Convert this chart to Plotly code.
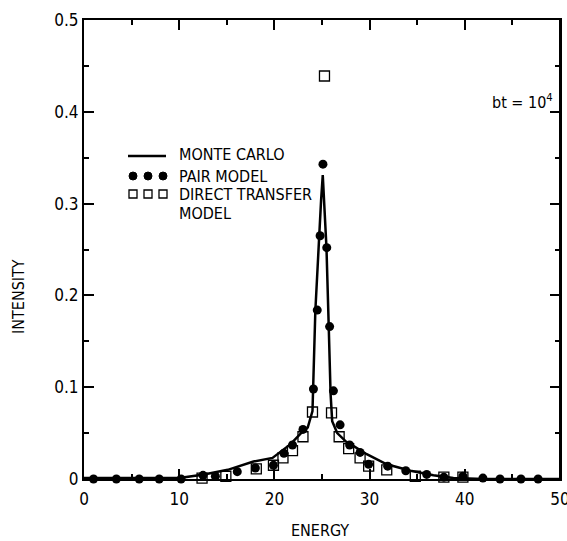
import plotly.graph_objects as go

# Monte Carlo curve
mc_x = [0, 2, 4, 6, 8, 10, 12.6, 15.1, 17.8, 19.8, 21.7, 22.8, 23.5, 24.0, 24.3, 24.67, 24.9, 25.08,
        25.26, 25.47, 25.7, 25.9, 26.07, 26.6, 27.6, 28.0, 29.7, 31.8, 34.3, 36.7, 38.8, 42, 46, 50]
mc_y = [0.001, 0.001, 0.001, 0.001, 0.001, 0.001, 0.005, 0.010, 0.019, 0.023, 0.038, 0.050, 0.056, 0.074, 0.183,
        0.263, 0.303, 0.331, 0.300, 0.252, 0.169, 0.093, 0.063, 0.050, 0.040, 0.038, 0.027, 0.016,
        0.009, 0.004, 0.001, 0.0, 0.0, 0.0]

# Pair model (filled circles)
pair_x = [1.0, 3.4, 5.8, 7.9, 10.2, 12.5, 13.8, 16.1, 18.0, 19.9, 21.0, 21.9, 23.0, 24.1, 24.5, 24.8,
          25.1, 25.5, 25.8, 26.2, 26.9, 27.9, 29.0, 29.9, 31.9, 33.8, 36.0, 37.8, 39.8, 41.9, 43.7, 45.9, 47.7]
pair_y = [0.0, 0.0, 0.0, 0.0, 0.0, 0.004, 0.003, 0.008, 0.012, 0.015, 0.028, 0.037, 0.054, 0.098, 0.184,
          0.265, 0.343, 0.252, 0.166, 0.096, 0.059, 0.037, 0.029, 0.016, 0.014, 0.009, 0.005, 0.002,
          0.003, 0.001, 0.0, 0.0, 0.0]

# Direct transfer model (open squares)
dt_x = [10.3, 12.4, 14.9, 18.1, 19.9, 20.9, 21.9, 23.0, 24.0, 25.26, 26.0, 26.8, 27.8, 29.0, 29.9, 31.8,
        34.8, 37.8, 39.8]
dt_y = [-0.002, 0.001, 0.003, 0.011, 0.015, 0.023, 0.031, 0.046, 0.073, 0.439, 0.072, 0.046, 0.033, 0.023,
        0.014, 0.010, 0.003, 0.002, 0.002]

x_ticks = [0, 10, 20, 30, 40, 50]
y_ticks = [0, 0.1, 0.2, 0.3, 0.4, 0.5]
y_labels = ["0", "0.1", "0.2", "0.3", "0.4", "0.5"]

FONT = "DejaVu Sans Condensed, Liberation Sans Narrow, sans-serif"
FS = 16

# plot area in page pixels
PL, PR, PT, PB = 84, 560, 20, 479
W, H = 567, 541


def px(xp):
    return (xp - PL) / (PR - PL)


def py(yp):
    return (PB - yp) / (PB - PT)


fig = go.Figure()
fig.add_trace(go.Scatter(x=mc_x, y=mc_y, mode="lines", line=dict(color="black", width=2.5),
                         showlegend=False, cliponaxis=False))
fig.add_trace(go.Scatter(x=pair_x, y=pair_y, mode="markers",
                         marker=dict(symbol="circle", size=9, color="black"),
                         showlegend=False, cliponaxis=False))
fig.add_trace(go.Scatter(x=dt_x, y=dt_y, mode="markers",
                         marker=dict(symbol="square-open", size=10, color="black", line=dict(width=1.3)),
                         showlegend=False, cliponaxis=False))

axis_common = dict(showline=True, linecolor="black", linewidth=2, mirror="allticks", ticks="inside",
                   tickcolor="black", ticklen=10, tickwidth=1.5, showgrid=False, zeroline=False,
                   automargin=False, ticklabeloverflow="allow",
                   tickfont=dict(family=FONT, size=17, color="black"))

fig.update_xaxes(range=[0, 50], tickvals=x_ticks, ticktext=[str(v) for v in x_ticks],
                 ticklabelstandoff=4,
                 minor=dict(tickvals=[5, 15, 25, 35, 45], ticklen=5, tickcolor="black", ticks="inside"),
                 **axis_common)
fig.update_yaxes(range=[0, 0.5], tickvals=y_ticks, ticktext=y_labels,
                 minor=dict(tickvals=[0.05, 0.15, 0.25, 0.35, 0.45], ticklen=5, tickcolor="black", ticks="inside"),
                 **axis_common)

# frame (right edge)
fig.add_shape(type="line", xref="paper", yref="paper", x0=1, x1=1, y0=0, y1=1,
              line=dict(color="black", width=2))

# axis titles
fig.add_annotation(text="ENERGY", xref="paper", yref="paper", x=px(320), y=py(530),
                   xanchor="center", yanchor="middle", showarrow=False,
                   font=dict(family=FONT, size=FS, color="black"))
fig.add_annotation(text="INTENSITY", xref="paper", yref="paper", x=px(18), y=py(297),
                   xanchor="center", yanchor="middle", showarrow=False, textangle=-90,
                   font=dict(family=FONT, size=FS, color="black"))

# Legend (manual)
fig.add_shape(type="line", xref="paper", yref="paper", x0=px(128), x1=px(166),
              y0=py(156), y1=py(156), line=dict(color="black", width=2.5))
for cx in (133, 148, 163):
    fig.add_shape(type="circle", xref="paper", yref="paper", xsizemode="pixel", ysizemode="pixel",
                  xanchor=px(cx), yanchor=py(176), x0=-4, x1=4, y0=-4, y1=4,
                  fillcolor="black", line=dict(color="black", width=1))
    fig.add_shape(type="rect", xref="paper", yref="paper", xsizemode="pixel", ysizemode="pixel",
                  xanchor=px(cx), yanchor=py(194), x0=-4, x1=4, y0=-4, y1=4,
                  fillcolor="white", line=dict(color="black", width=1.3))
leg_items = [("MONTE CARLO", 155), ("PAIR MODEL", 176), ("DIRECT TRANSFER", 194), ("MODEL", 213)]
for txt, yy in leg_items:
    fig.add_annotation(text=txt, xref="paper", yref="paper", x=px(177), y=py(yy),
                       xanchor="left", yanchor="middle", showarrow=False,
                       font=dict(family=FONT, size=FS, color="black"))
fig.add_annotation(text="bt = 10<sup>4</sup>", xref="paper", yref="paper", x=px(490), y=py(102),
                   xanchor="left", yanchor="middle", showarrow=False,
                   font=dict(family=FONT, size=FS, color="black"))

fig.update_layout(width=W, height=H,
                  margin=dict(l=PL, r=W - PR, t=PT, b=H - PB),
                  paper_bgcolor="white", plot_bgcolor="white", showlegend=False)

fig.write_html("out.html", config={"displayModeBar": False},
               post_script="document.body.style.margin='0px';document.body.style.overflow='hidden';")
